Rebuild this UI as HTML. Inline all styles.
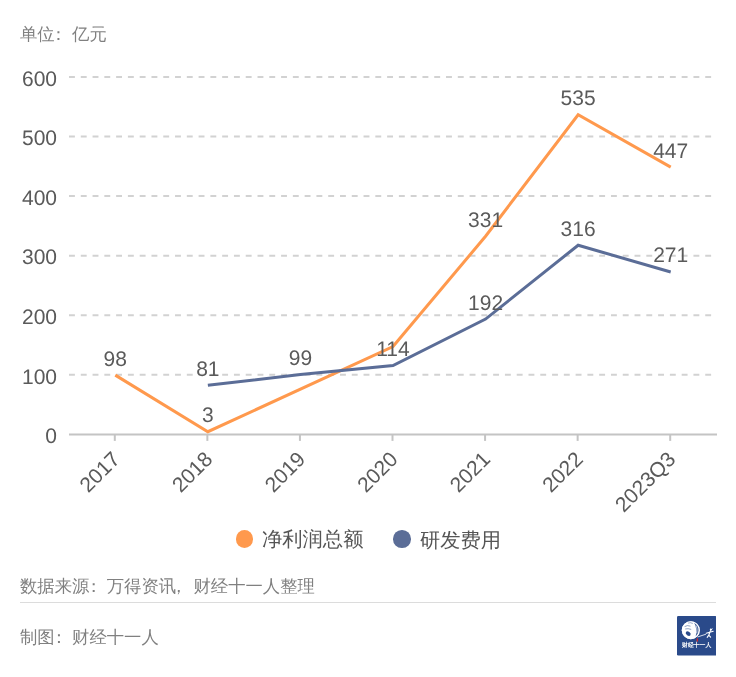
<!DOCTYPE html>
<html><head><meta charset="utf-8"><style>
html,body{margin:0;padding:0;background:#fff;}
body{width:736px;height:677px;position:relative;overflow:hidden;font-family:"Liberation Sans",sans-serif;text-rendering:geometricPrecision;}
.p{position:relative;}
.t{position:absolute;white-space:nowrap;color:#808080;font-size:17.35px;line-height:1;}
svg text{font-family:"Liberation Sans",sans-serif;text-rendering:geometricPrecision;}
.ax{font-size:21px;fill:#5a5a5a;}
.lb{font-size:21px;fill:#5a5a5a;}
.leg{position:absolute;font-size:20.3px;color:#555;white-space:nowrap;line-height:1;}
.dot{position:absolute;width:17.5px;height:17.5px;border-radius:50%;}
</style></head><body>
<div style="position:absolute;left:0;top:0;width:736px;height:677px;will-change:transform;">
<div class="t" style="left:20px;top:26px;">单位<span class="p" style="left:-5px">：</span>亿元</div>
<svg width="736" height="677" style="position:absolute;left:0;top:0">
<line x1="69" y1="374.82" x2="717" y2="374.82" stroke="#d2d2d2" stroke-width="2" stroke-dasharray="5.891 5.891"/>
<line x1="69" y1="315.23" x2="717" y2="315.23" stroke="#d2d2d2" stroke-width="2" stroke-dasharray="5.891 5.891"/>
<line x1="69" y1="255.65" x2="717" y2="255.65" stroke="#d2d2d2" stroke-width="2" stroke-dasharray="5.891 5.891"/>
<line x1="69" y1="196.07" x2="717" y2="196.07" stroke="#d2d2d2" stroke-width="2" stroke-dasharray="5.891 5.891"/>
<line x1="69" y1="136.48" x2="717" y2="136.48" stroke="#d2d2d2" stroke-width="2" stroke-dasharray="5.891 5.891"/>
<line x1="69" y1="76.90" x2="717" y2="76.90" stroke="#d2d2d2" stroke-width="2" stroke-dasharray="5.891 5.891"/>
<line x1="69" y1="434.4" x2="717" y2="434.4" stroke="#c4c4c4" stroke-width="2"/>
<line x1="114.79" y1="434.4" x2="114.79" y2="440.9" stroke="#c4c4c4" stroke-width="2"/>
<line x1="207.36" y1="434.4" x2="207.36" y2="440.9" stroke="#c4c4c4" stroke-width="2"/>
<line x1="299.93" y1="434.4" x2="299.93" y2="440.9" stroke="#c4c4c4" stroke-width="2"/>
<line x1="392.50" y1="434.4" x2="392.50" y2="440.9" stroke="#c4c4c4" stroke-width="2"/>
<line x1="485.07" y1="434.4" x2="485.07" y2="440.9" stroke="#c4c4c4" stroke-width="2"/>
<line x1="577.64" y1="434.4" x2="577.64" y2="440.9" stroke="#c4c4c4" stroke-width="2"/>
<line x1="670.21" y1="434.4" x2="670.21" y2="440.9" stroke="#c4c4c4" stroke-width="2"/>
<text x="57" y="443.10" text-anchor="end" class="ax">0</text>
<text x="57" y="383.52" text-anchor="end" class="ax">100</text>
<text x="57" y="323.93" text-anchor="end" class="ax">200</text>
<text x="57" y="264.35" text-anchor="end" class="ax">300</text>
<text x="57" y="204.77" text-anchor="end" class="ax">400</text>
<text x="57" y="145.18" text-anchor="end" class="ax">500</text>
<text x="57" y="85.60" text-anchor="end" class="ax">600</text>
<text transform="translate(121.29,460.4) rotate(-45)" text-anchor="end" class="ax">2017</text>
<text transform="translate(213.86,460.4) rotate(-45)" text-anchor="end" class="ax">2018</text>
<text transform="translate(306.43,460.4) rotate(-45)" text-anchor="end" class="ax">2019</text>
<text transform="translate(399.00,460.4) rotate(-45)" text-anchor="end" class="ax">2020</text>
<text transform="translate(491.57,460.4) rotate(-45)" text-anchor="end" class="ax">2021</text>
<text transform="translate(584.14,460.4) rotate(-45)" text-anchor="end" class="ax">2022</text>
<text transform="translate(676.71,460.4) rotate(-45)" text-anchor="end" class="ax">2023Q3</text>
<polyline points="115.29,375.11 207.86,431.71 393.00,346.51 485.57,236.28 578.14,114.73 670.71,167.16" fill="none" stroke="#ff994d" stroke-width="3" stroke-linejoin="miter"/>
<polyline points="207.86,385.24 300.43,374.51 393.00,365.57 485.57,319.10 578.14,245.22 670.71,272.03" fill="none" stroke="#5b6d97" stroke-width="3" stroke-linejoin="miter"/>
<text x="115.29" y="365.51" text-anchor="middle" class="lb">98</text>
<text x="207.86" y="422.11" text-anchor="middle" class="lb">3</text>
<text x="485.57" y="226.68" text-anchor="middle" class="lb">331</text>
<text x="578.14" y="105.13" text-anchor="middle" class="lb">535</text>
<text x="670.71" y="157.56" text-anchor="middle" class="lb">447</text>
<text x="207.86" y="375.64" text-anchor="middle" class="lb">81</text>
<text x="300.43" y="364.91" text-anchor="middle" class="lb">99</text>
<text x="393.00" y="355.97" text-anchor="middle" class="lb">114</text>
<text x="485.57" y="309.50" text-anchor="middle" class="lb">192</text>
<text x="578.14" y="235.62" text-anchor="middle" class="lb">316</text>
<text x="670.71" y="262.43" text-anchor="middle" class="lb">271</text>
</svg>
<div class="dot" style="left:235.6px;top:530.4px;background:#ff994d"></div>
<div class="leg" style="left:262px;top:530px;">净利润总额</div>
<div class="dot" style="left:393px;top:530.4px;background:#5b6d97"></div>
<div class="leg" style="left:420px;top:530.5px;">研发费用</div>
<div class="t" style="left:20px;top:578px;">数据来源<span class="p" style="left:-4.5px">：</span>万得资讯<span class="p" style="left:-6px">，</span>财经十一人整理</div>
<div style="position:absolute;left:20px;top:601.6px;width:696px;height:1.8px;background:#dcdcdc"></div>
<div class="t" style="left:20px;top:629px;">制图<span class="p" style="left:-4.5px">：</span>财经十一人</div>
<svg style="position:absolute;left:676.7px;top:616px" width="39.6" height="39.6" viewBox="0 0 39.6 39.6">
<rect width="39.6" height="39.6" rx="1.3" fill="#2a4a8a"/>
<circle cx="13.8" cy="14.2" r="9" fill="#fff"/>
<path d="M17.2 6.6 Q20.6 8.6 21.6 12.6 Q22 17.5 18.6 20.6 Q19.8 16.5 19.2 13.2 Q18.6 9.6 17.2 6.6 Z" fill="#2a4a8a" opacity=".85"/>
<path d="M19.2 9.5 Q20.5 13 19.8 17" stroke="#fff" stroke-width=".6" fill="none"/>
<ellipse cx="11.2" cy="17.6" rx="2.7" ry="1.9" transform="rotate(35 11.2 17.6)" fill="#2a4a8a"/>
<path d="M7.6 10.6 Q10.5 8.8 13.5 10.2 M8.2 13 Q11 12.2 14.2 13.4 M11 7 Q13.5 6.2 15.8 7.4" stroke="#2a4a8a" stroke-width=".7" fill="none" opacity=".75"/>
<circle cx="13.8" cy="14.2" r="8.6" fill="none" stroke="#fff" stroke-width=".8"/>
<path d="M20.5 21 L29 18.2" stroke="#fff" stroke-width=".8" fill="none"/>
<g stroke="#fff" stroke-width="1.1" fill="none" stroke-linecap="round"><path d="M33.2 15.2 L31.8 19.2 M29.2 17.2 L36.2 15.2 M31.8 19.2 L30.2 21.4 M31.8 19.2 L33.6 21.2"/></g><circle cx="33.9" cy="13.6" r="1.1" fill="#fff"/><path d="M33 15 l2.6-2.4" stroke="#fff" stroke-width=".8"/>
<rect x="19.7" y="22.3" width="1.3" height="3.3" fill="#d9262b"/>
<text x="5.1" y="31.4" font-size="6.2" font-weight="bold" fill="#fff" textLength="29.2" lengthAdjust="spacingAndGlyphs">财经十一人</text>
</svg>
</div>
</body></html>
